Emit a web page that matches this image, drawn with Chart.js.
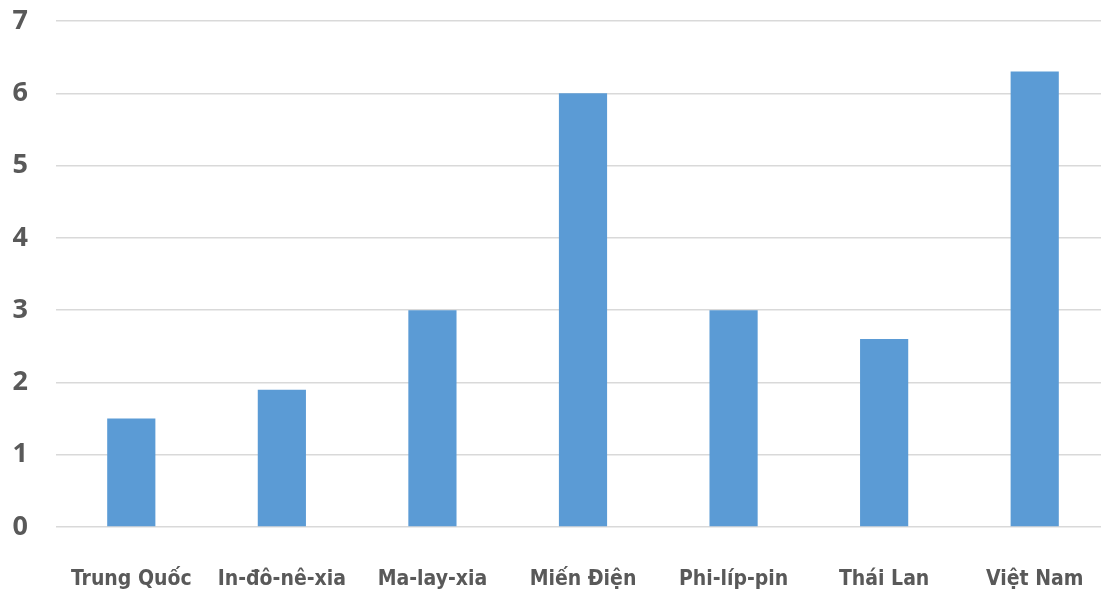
<!DOCTYPE html>
<html>
<head>
<meta charset="utf-8">
<script src="https://cdn.jsdelivr.net/npm/chart.js@4/dist/chart.umd.min.js"></script>
<style>
  html, body { margin: 0; padding: 0; background: #ffffff; overflow: hidden; }
  canvas { display: block; }
</style>
</head>
<body>
<canvas id="c" width="1110" height="589" style="width:1110px;height:589px"></canvas>
<script>
const countries = ["Trung Quốc", "In-đô-nê-xia", "Ma-lay-xia", "Miến Điện", "Phi-líp-pin", "Thái Lan", "Việt Nam"];
const values = [1.5, 1.9, 3, 6, 3, 2.6, 6.3];
const yTicks = [0, 1, 2, 3, 4, 5, 6, 7];

const labelGray = "#595959";

new Chart(document.getElementById("c"), {
  type: "bar",
  data: {
    labels: countries,
    datasets: [{
      data: values,
      backgroundColor: "#5b9bd5",
      borderWidth: 0,
      barPercentage: 0.32,
      categoryPercentage: 1.0
    }]
  },
  options: {
    responsive: false,
    animation: false,
    layout: { padding: 0 },
    plugins: { legend: { display: false }, tooltip: { enabled: false } },
    scales: {
      x: {
        grid: { display: false, drawTicks: false },
        border: { display: false },
        ticks: {
          color: labelGray,
          font: { family: "'Liberation Sans Narrow', 'DejaVu Sans Condensed', 'Liberation Sans', sans-serif", size: 21, weight: "bold" },
          padding: 40,
          maxRotation: 0,
          autoSkip: false
        },
        afterFit: (s) => { s.height = 62; s.paddingLeft = 0; s.paddingRight = 0; }
      },
      y: {
        min: 0,
        max: 7,
        afterBuildTicks: (s) => { s.ticks = yTicks.map(v => ({ value: v })); },
        grid: { color: "#d9d9d9", lineWidth: 1.5, drawTicks: false },
        border: { display: false },
        ticks: {
          color: labelGray,
          font: { family: "'Open Sans', 'Liberation Sans', sans-serif", size: 27, weight: "bold" },
          padding: 28
        },
        afterFit: (s) => { s.width = 56; s.paddingTop = 21; s.paddingBottom = 0; }
      }
    }
  }
});
</script>
</body>
</html>
